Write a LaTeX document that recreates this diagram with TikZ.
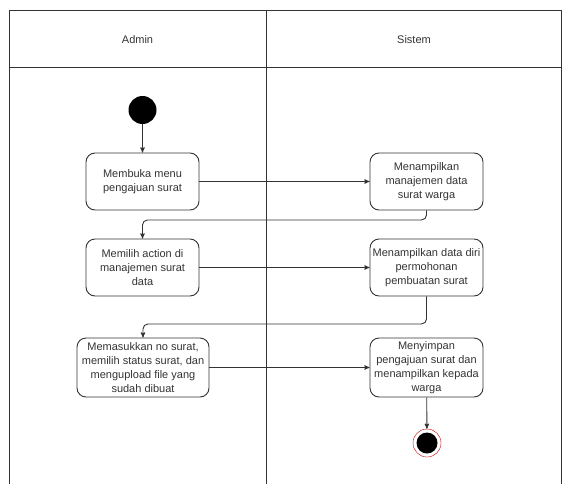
\documentclass[tikz,border=0pt]{standalone}
\usepackage{fontspec}
\setmainfont{Liberation Sans}
\usepackage{tikz}
\usetikzlibrary{arrows}

\definecolor{linegray}{HTML}{333333}

\begin{document}
\begin{tikzpicture}[x=1pt,y=-1pt,->,>=stealth',auto,node distance=284pt,
                    semithick,font=\fontsize{11}{14}\selectfont]
  \tikzset{action/.style={draw=linegray,rounded corners=9pt,align=center,
             text=linegray,minimum width=113pt,minimum height=57pt,
             inner sep=1pt,line width=0.9pt},
           lane/.style={draw=linegray,line width=0.9pt}}
  \useasboundingbox (0,0) rectangle (569,484);

  % swimlanes
  \draw[-,lane] (9,484) -- (9,10) -- (561,10) -- (561,484);
  \draw[-,lane] (9,67) -- (561,67);
  \draw[-,lane] (266,10) -- (266,484);
  \node[text=linegray] (admin)  at (137.5,40) {Admin};
  \node[text=linegray] (sistem) at (414,40)   {Sistem};

  \node[circle,fill=black,minimum size=28pt,inner sep=0pt] (start) at (142.5,110) {};
  \node[action]             (A1) at (142.5,181.5) {Membuka menu\\pengajuan surat};
  \node[action]             (A2) at (142.5,267.5) {Memilih action di\\manajemen surat\\data};
  \node[action,minimum width=132pt,minimum height=59pt]
                            (A3) at (143,367.5) {Memasukkan no surat,\\memilih status surat, dan\\mengupload file yang\\sudah dibuat};
  \node[action]             (S1) at (426.5,181.5) {Menampilkan\\manajemen data\\surat warga};
  \node[action]             (S2) at (426.5,267.5) {Menampilkan data diri\\permohonan\\pembuatan surat};
  \node[action,minimum height=59pt]
                            (S3) at (426.5,367.5) {Menyimpan\\pengajuan surat dan\\menampilkan kepada\\warga};
  \node[circle,draw=red!75!black,fill=white,minimum size=28pt,inner sep=0pt,thin]
                            (stop) at (427,443) {};
  \node[circle,fill=black,minimum size=21pt,inner sep=0pt] (stopdot) at (stop) {};

  \path[draw=linegray,line width=0.9pt]
        (start) edge (A1)
        (A1) edge (S1)
        (A2) edge (S2)
        (A3) edge (S3)
        (S3) edge (stop);
  \draw[draw=linegray,line width=0.9pt,rounded corners=5pt]
        (S1.south) -- ++(0,9.5) -| (A2.north);
  \draw[draw=linegray,line width=0.9pt,rounded corners=5pt]
        (S2.south) -- ++(0,27.5) -| (A3.north);

\end{tikzpicture}
\end{document}
